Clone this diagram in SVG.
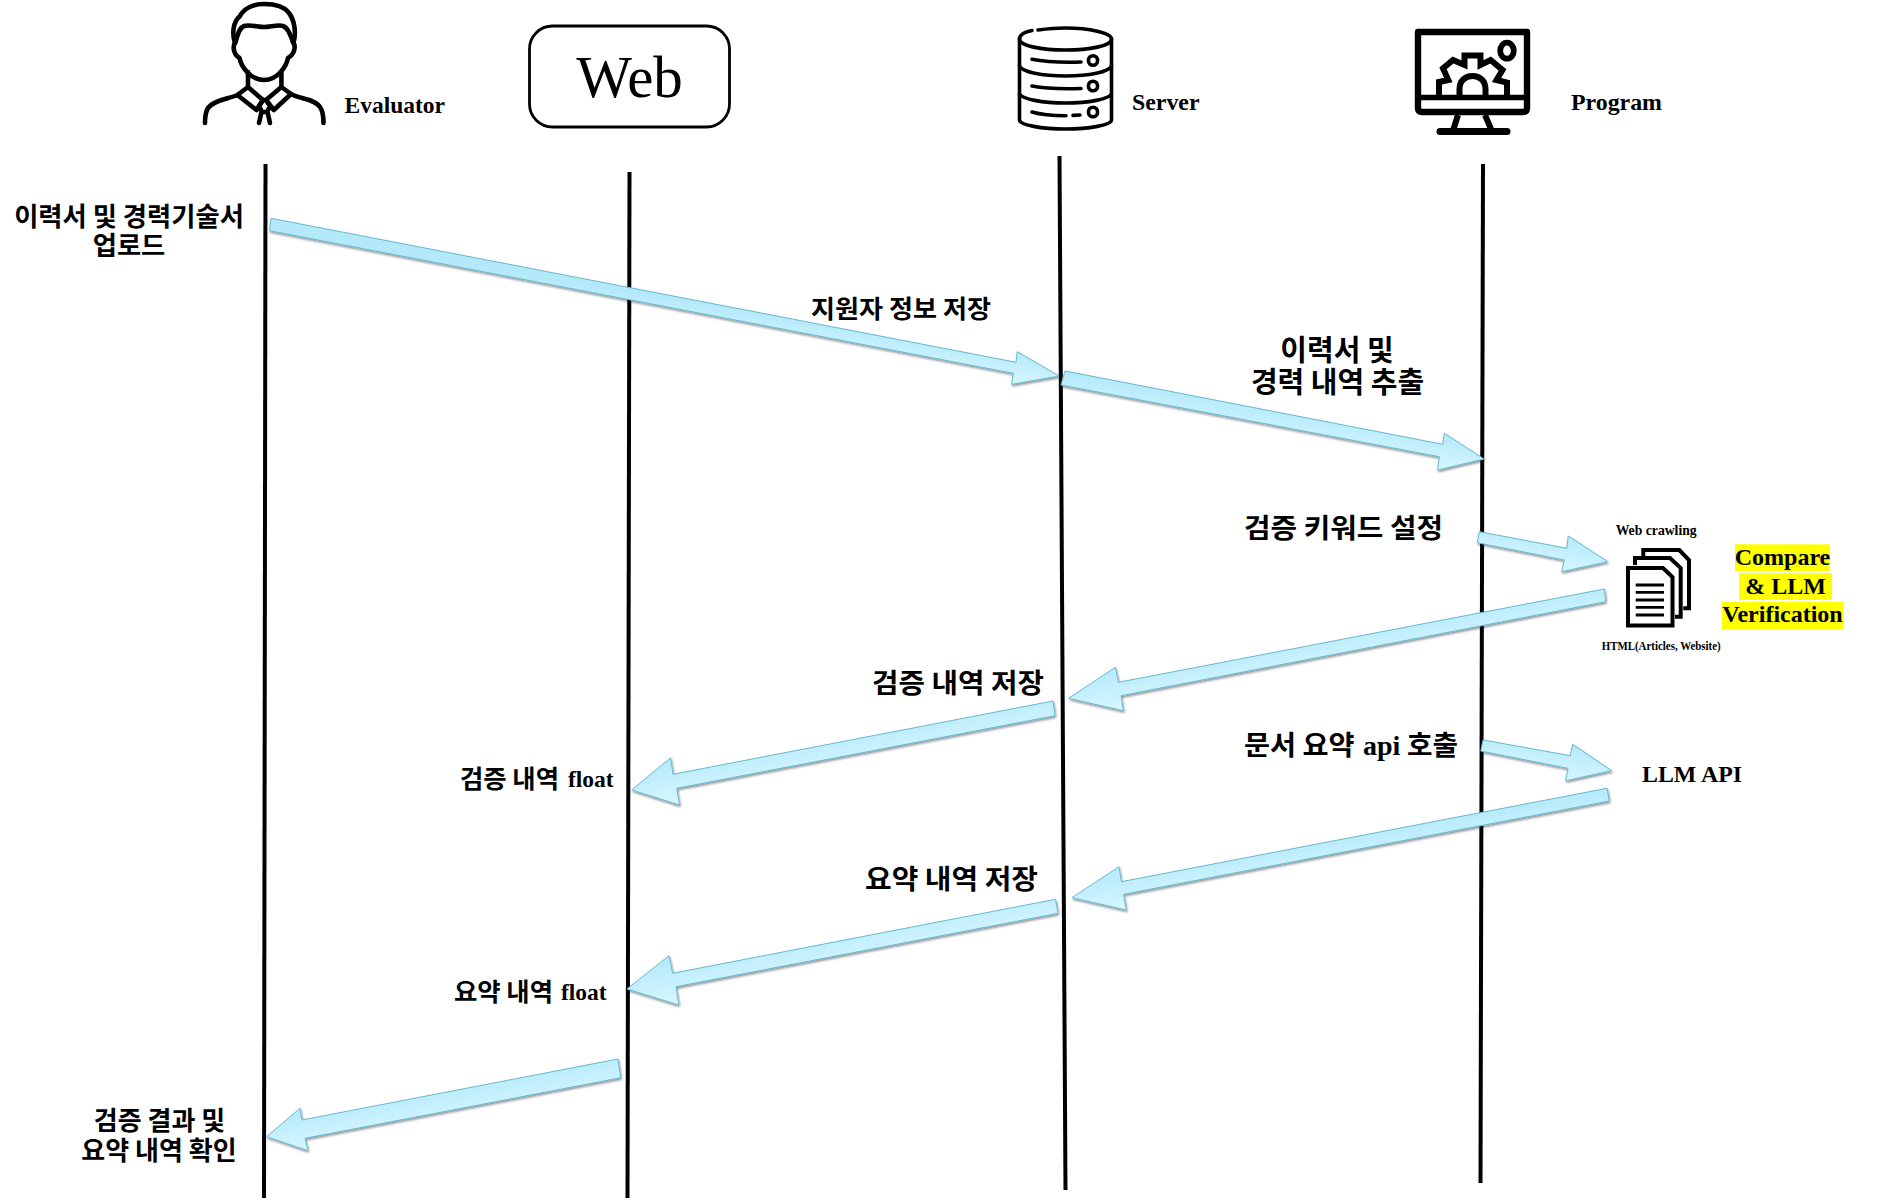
<svg xmlns="http://www.w3.org/2000/svg" width="1892" height="1202" viewBox="0 0 1892 1202">
<style>
.ko{font-family:"Noto Sans CJK KR","Noto Sans",sans-serif;font-weight:700;fill:#000}
.en{font-family:"Liberation Serif",serif;font-weight:700;fill:#000}
.life{fill:none;stroke:#000;stroke-width:4}
.arrow polygon{stroke:#67bad3;stroke-width:1;stroke-linejoin:miter}
.ic{fill:none;stroke:#000;stroke-width:4.600;stroke-linecap:round;stroke-linejoin:round}
.ic2{fill:none;stroke:#000;stroke-width:3.600;stroke-linecap:round;stroke-linejoin:round}
.hl{fill:#ffff00}
</style>
<defs>
<linearGradient id="g"><stop offset="0" stop-color="#b4e9fa"/><stop offset="1" stop-color="#d8f7ff"/></linearGradient>
<linearGradient id="g1" href="#g" gradientUnits="userSpaceOnUse" x1="1017" y1="352" x2="1012" y2="384"/>
<linearGradient id="g2" href="#g" gradientUnits="userSpaceOnUse" x1="1444" y1="433" x2="1438" y2="470"/>
<linearGradient id="g3" href="#g" gradientUnits="userSpaceOnUse" x1="1568" y1="536" x2="1562" y2="572"/>
<linearGradient id="g4" href="#g" gradientUnits="userSpaceOnUse" x1="1115" y1="667" x2="1123" y2="711"/>
<linearGradient id="g5" href="#g" gradientUnits="userSpaceOnUse" x1="671" y1="758" x2="680" y2="805"/>
<linearGradient id="g6" href="#g" gradientUnits="userSpaceOnUse" x1="1573" y1="744" x2="1566" y2="781"/>
<linearGradient id="g7" href="#g" gradientUnits="userSpaceOnUse" x1="1119" y1="867" x2="1126" y2="910"/>
<linearGradient id="g8" href="#g" gradientUnits="userSpaceOnUse" x1="669" y1="956" x2="679" y2="1005"/>
<linearGradient id="g9" href="#g" gradientUnits="userSpaceOnUse" x1="300" y1="1108" x2="308" y2="1151"/>
<filter id="sh" x="-5%" y="-5%" width="110%" height="110%"><feDropShadow dx="0.8" dy="1.6" stdDeviation="1.3" flood-color="#000" flood-opacity="0.45"/></filter>
</defs>
<rect width="1892" height="1202" fill="#fff"/>

<g id="lifelines">
<path class="life" d="M265.500 164L264 1198"/>
<path class="life" d="M629.500 172L627.500 1198"/>
<path class="life" d="M1059.500 156L1065.500 1190"/>
<path class="life" d="M1483 164L1480.500 1183"/>
</g>

<g id="node-evaluator">
<g class="ic">
<path d="M234.700 42C232 33 233 22 240 16C244 8 254 4 264 4C276 4 284 6 289 13C295 21 296 33 293.700 42"/>
<path d="M235.500 42C238 34 239 28 244 26C249 24 258 27 264 27C270 27 279 24 283 26C288 28 290 34 293 42"/>
<path d="M235.500 42C232.500 46 233 54 239.500 58C241 66 250 80 264 80C278 80 286.500 66 288 58C295 54 296 46 293 42"/>
<path d="M248 72V87L237.400 95L256.500 110L263 100L248 87M281.400 72V87L291 94L273.800 110L266 100L281.400 87"/>
<path d="M263 100H266L270 106L267 112H262L259 106ZM261.500 112L259 123M267.500 112L270 123"/>
<path d="M237.400 95C228 99 214 100 208 108C205 113 205 118 205 123M291 94C300 99 315 99 320 107C323.500 112 323.500 118 323.500 123"/>
</g>
<text class="en" x="344.500" y="113" font-size="23.400" textLength="100.500" lengthAdjust="spacingAndGlyphs">Evaluator</text>
</g>

<g id="node-web">
<rect x="529.500" y="26" width="200" height="101" rx="23" fill="#fff" stroke="#000" stroke-width="2.800"/>
<text x="629.500" y="97" text-anchor="middle" font-family="'Liberation Serif',serif" font-size="59" fill="#000">Web</text>
</g>

<g id="node-server">
<g class="ic2">
<path d="M1032 30.500C1025 32 1019.500 35 1019.500 39C1019.500 46 1042 50 1065.500 50C1089 50 1111.500 46 1111.500 39C1111.500 33 1089 28 1065.500 28C1058 28 1051 28.300 1038 30"/>
<path d="M1019.500 39V120C1019.500 125 1042 129 1065.500 129C1089 129 1111.500 125 1111.500 120V39"/>
<path d="M1019.500 66C1022 72 1042 76 1065.500 76C1089 76 1109 72 1111.500 66"/>
<path d="M1019.500 94C1022 99 1042 103 1065.500 103C1089 103 1109 99 1111.500 94"/>
<path d="M1032 59.300C1045 61.800 1065 62.500 1081 62M1032 86C1045 88.500 1065 89 1081 88.500M1032 112C1042 115 1055 115.700 1066 115.700M1073 115.400L1080 115"/>
<ellipse cx="1093" cy="60.500" rx="4.600" ry="4.800"/><ellipse cx="1093" cy="86" rx="4.600" ry="4.800"/><ellipse cx="1093" cy="112" rx="4.600" ry="4.800"/>
</g>
<text class="en" x="1132" y="110" font-size="23.600" textLength="67.500" lengthAdjust="spacingAndGlyphs">Server</text>
</g>

<g id="node-program">
<path d="M1418 32H1527V108Q1527 112 1523 112H1422Q1418 112 1418 108Z" fill="none" stroke="#000" stroke-width="6.400" stroke-linejoin="round"/>
<path d="M1416 97.500H1529" fill="none" stroke="#000" stroke-width="5.400"/>
<path d="M1458 115L1453.500 129M1485 115L1491 129" fill="none" stroke="#000" stroke-width="6"/>
<path d="M1440 131.500H1507" fill="none" stroke="#000" stroke-width="7" stroke-linecap="round"/>
<ellipse cx="1507" cy="50.700" rx="6.800" ry="8" fill="none" stroke="#000" stroke-width="5.800"/>
<path d="M1439 95V82L1448.300 80L1443 68.300L1453 60L1464.500 65V55.500H1480.500V65L1490.600 60L1502.500 70L1496.500 80L1507 82.700V95" fill="none" stroke="#000" stroke-width="6" stroke-linejoin="miter"/>
<path d="M1459.500 96V89C1459.500 81 1465 76 1472.500 76C1480 76 1485.500 81 1485.500 89V96" fill="none" stroke="#000" stroke-width="6"/>
<text class="en" x="1571" y="110" font-size="23.600" textLength="91" lengthAdjust="spacingAndGlyphs">Program</text>
</g>

<g id="connectors" class="arrow" filter="url(#sh)">
<polygon fill="url(#g1)" points="271,218.300 1016,362.300 1017.300,351.700 1059,376 1011.700,384.300 1013.300,373.300 269.600,230.700"/>
<polygon fill="url(#g2)" points="1065,371 1442.700,444.300 1444.300,433.300 1484,459 1437.700,470 1439.300,456.700 1061,385"/>
<polygon fill="url(#g3)" points="1479.300,531.700 1566.700,548.300 1568.300,536 1607.700,561.700 1561.700,571.700 1564.300,560 1477.300,542.700"/>
<polygon fill="url(#g4)" points="1604.500,589 1118.500,682.300 1115.400,667.300 1068.700,698.300 1123.400,710.700 1121,695.700 1605.600,601.700"/>
<polygon fill="url(#g5)" points="1053,701 673,774.300 670.600,757.700 631.800,790 679.600,805 676.700,788.300 1055,715.700"/>
<polygon fill="url(#g6)" points="1483,740 1570.300,755.700 1572.600,744.300 1611.600,770.700 1565.700,780.700 1568,768.300 1480.800,751"/>
<polygon fill="url(#g7)" points="1607,788.300 1121.300,881.700 1119,866.700 1072,897.700 1126.300,910 1123.600,894.300 1609.300,801"/>
<polygon fill="url(#g8)" points="1055.500,899.300 672.700,973.300 669,955.700 627,989 678.800,1005 676,986.700 1058,913.300"/>
<polygon fill="url(#g9)" points="618,1059 301.900,1120 300,1108.300 266.700,1136.700 308,1150.700 305,1138.300 620.600,1077.700"/>
</g>

<g id="node-documents">
<path d="M1643.300 557V550H1679.300L1689 560V608.300H1683.300" fill="none" stroke="#000" stroke-width="4"/>
<path d="M1635 565V558H1670L1680.700 568V616.700H1675" fill="none" stroke="#000" stroke-width="4"/>
<path d="M1628 568H1663L1672.500 577V625.500H1628Z" fill="#fff" stroke="#000" stroke-width="4"/>
<path d="M1635.700 585H1664M1635.700 592.300H1664M1635.700 600H1664M1635.700 607.300H1664M1635.700 615H1664" fill="none" stroke="#000" stroke-width="2.800"/>
<text class="en" x="1615.700" y="535" font-size="13.600" textLength="81" lengthAdjust="spacingAndGlyphs">Web crawling</text>
<text class="en" x="1601.700" y="650" font-size="12" textLength="119" lengthAdjust="spacingAndGlyphs">HTML(Articles, Website)</text>
</g>

<g id="node-compare">
<rect class="hl" x="1735" y="544.300" width="95" height="27"/>
<rect class="hl" x="1739" y="573" width="93" height="27"/>
<rect class="hl" x="1722" y="602" width="121" height="27"/>
<text class="en" font-size="24" text-anchor="middle"><tspan x="1782.500" y="565">Compare</tspan><tspan x="1785.500" y="594">&amp; LLM</tspan><tspan x="1782.500" y="622">Verification</tspan></text>
</g>

<g id="node-llm-api">
<text class="en" x="1642" y="781.500" font-size="24" textLength="100" lengthAdjust="spacingAndGlyphs">LLM API</text>
</g>

<g id="labels">
<text class="ko" font-size="26.300" text-anchor="middle"><tspan x="129" y="226">이력서 및 경력기술서</tspan><tspan x="129" y="254.500">업로드</tspan></text>
<text class="ko" x="811" y="318" font-size="25" textLength="180" lengthAdjust="spacingAndGlyphs">지원자 정보 저장</text>
<text class="ko" font-size="29" text-anchor="middle"><tspan x="1337" y="360.500">이력서 및</tspan><tspan x="1337.500" y="392.500">경력 내역 추출</tspan></text>
<text class="ko" x="1244" y="538" font-size="27" textLength="199" lengthAdjust="spacingAndGlyphs">검증 키워드 설정</text>
<text class="ko" x="872" y="692.500" font-size="27" textLength="172" lengthAdjust="spacingAndGlyphs">검증 내역 저장</text>
<text class="ko" x="460" y="788" font-size="25" textLength="99" lengthAdjust="spacingAndGlyphs">검증 내역</text>
<text class="en" x="568" y="787" font-size="23.500">float</text>
<text class="ko" x="1244" y="755" font-size="27" textLength="110.500" lengthAdjust="spacingAndGlyphs">문서 요약</text>
<text class="en" x="1363" y="755" font-size="28">api</text>
<text class="ko" x="1407" y="755" font-size="27" textLength="51" lengthAdjust="spacingAndGlyphs">호출</text>
<text class="ko" x="865" y="889" font-size="27" textLength="173" lengthAdjust="spacingAndGlyphs">요약 내역 저장</text>
<text class="ko" x="454" y="1000.500" font-size="25" textLength="99" lengthAdjust="spacingAndGlyphs">요약 내역</text>
<text class="en" x="561" y="1000" font-size="23.500">float</text>
<text class="ko" font-size="26" text-anchor="middle"><tspan x="159.500" y="1130">검증 결과 및</tspan><tspan x="159" y="1159.500">요약 내역 확인</tspan></text>
</g>
</svg>
